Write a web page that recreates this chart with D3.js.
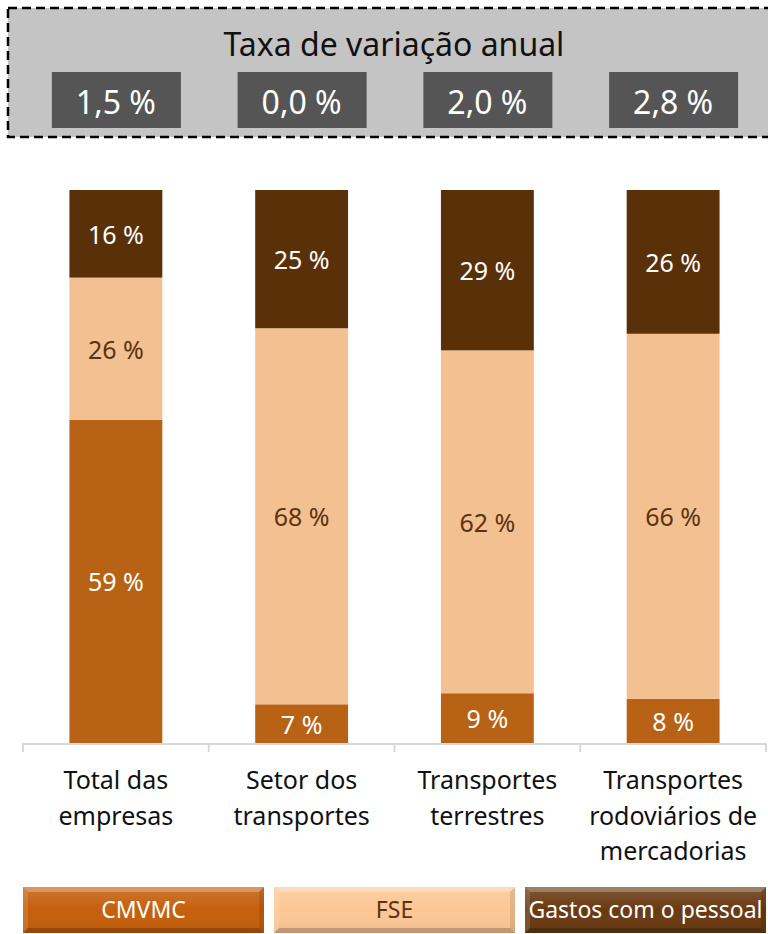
<!DOCTYPE html>
<html>
<head>
<meta charset="utf-8">
<script src="https://cdn.jsdelivr.net/npm/d3@7"></script>
<style>
  body { margin: 0; background: #fff; }
  text { font-family: "Noto Sans", "Open Sans", sans-serif; }
</style>
</head>
<body>
<div id="chart"></div>
<script>
// Chart data
var categories = ["Total das\nempresas", "Setor dos\ntransportes", "Transportes\nterrestres", "Transportes\nrodoviários de\nmercadorias"];
var seriesNames = ["CMVMC", "FSE", "Gastos com o pessoal"];
var cmvmc = [59, 7, 9, 8];
var fse = [26, 68, 62, 66];
var gastos = [16, 25, 29, 26];
var annualRate = [1.5, 0.0, 2.0, 2.8];

var barColors = ["#b86215", "#f3c092", "#5a3009"];
var labelColors = ["#ffffff", "#5c3310", "#ffffff"];
var legendColors = ["#c55f0c", "#fcc795", "#6a3a12"];
var legendText = ["#ffffff", "#5c3310", "#ffffff"];

const width = 768;
const height = 934;

var svg = d3.select("#chart")
            .append("svg")
                .attr("width", width)
                .attr("height", height);

// Build table for the stack
var table = categories.map(function(c, i) {
    return {cat: c, "CMVMC": cmvmc[i], "FSE": fse[i], "Gastos com o pessoal": gastos[i]};
});

var stack = d3.stack()
                .keys(seriesNames)
                .offset(d3.stackOffsetExpand);
var layers = stack(table);

// Scales
var scaleX = d3.scaleBand()
                .domain(categories)
                .range([23, 766])
                .paddingInner(0.5)
                .paddingOuter(0.25);

var scaleY = d3.scaleLinear()
                .domain([0, 1])
                .range([743, 190]);

// Header box with annual rates
var header = svg.append("g");
header.append("rect")
    .attr("x", 8)
    .attr("y", 8)
    .attr("width", 800)
    .attr("height", 129)
    .attr("fill", "#c4c4c4")
    .attr("stroke", "#000")
    .attr("stroke-width", 2.5)
    .attr("stroke-dasharray", "9,5");

header.append("text")
    .attr("x", 394)
    .attr("y", 56)
    .attr("text-anchor", "middle")
    .style("font-size", "32px")
    .attr("fill", "#111")
    .text("Taxa de variação anual");

var fmtRate = function(v) { return d3.format(".1f")(v).replace(".", ",") + " %"; };

var rateBox = header.selectAll("g.rate")
    .data(annualRate)
    .enter()
    .append("g")
        .attr("class", "rate")
        .attr("transform", function(d, i) {
            return "translate(" + (scaleX(categories[i]) + scaleX.bandwidth() / 2) + ",0)";
        });

rateBox.append("rect")
    .attr("x", -64)
    .attr("y", 72)
    .attr("width", 129)
    .attr("height", 56)
    .attr("fill", "#555555");

rateBox.append("text")
    .attr("x", 0)
    .attr("y", 114)
    .attr("text-anchor", "middle")
    .style("font-size", "32px")
    .attr("fill", "#fff")
    .text(function(d) { return fmtRate(d); });

// Axis line with ticks at band boundaries
var axis = svg.append("g");
axis.append("line")
    .attr("x1", scaleX.range()[0])
    .attr("x2", scaleX.range()[1])
    .attr("y1", scaleY(0) + 1)
    .attr("y2", scaleY(0) + 1)
    .attr("stroke", "#d9d9d9")
    .attr("stroke-width", 2);

var bounds = categories.map(function(c) { return scaleX(c) - scaleX.step() * 0.25; });
bounds.push(scaleX.range()[1]);
axis.selectAll("line.tick")
    .data(bounds)
    .enter()
    .append("line")
        .attr("class", "tick")
        .attr("x1", function(d) { return d; })
        .attr("x2", function(d) { return d; })
        .attr("y1", scaleY(0))
        .attr("y2", scaleY(0) + 9)
        .attr("stroke", "#d9d9d9")
        .attr("stroke-width", 2);

// Stacked bars
var layer = svg.selectAll("g.layer")
    .data(layers)
    .enter()
    .append("g")
        .attr("class", "layer")
        .attr("fill", function(d, i) { return barColors[i]; });

layer.selectAll("rect")
    .data(function(d) { return d; })
    .enter()
    .append("rect")
        .attr("x", function(d) { return scaleX(d.data.cat); })
        .attr("y", function(d) { return scaleY(d[1]); })
        .attr("width", scaleX.bandwidth())
        .attr("height", function(d) { return scaleY(d[0]) - scaleY(d[1]); });

// Value labels
layers.forEach(function(l, li) {
    svg.append("g")
        .selectAll("text")
        .data(l)
        .enter()
        .append("text")
            .attr("x", function(d) { return scaleX(d.data.cat) + scaleX.bandwidth() / 2; })
            .attr("y", function(d) { return (scaleY(d[0]) + scaleY(d[1])) / 2 + 10; })
            .attr("text-anchor", "middle")
            .style("font-size", "25px")
            .attr("fill", labelColors[li])
            .text(function(d) { return d.data[l.key] + " %"; });
});

// Category labels
var catLabels = svg.append("g")
    .selectAll("text")
    .data(categories)
    .enter()
    .append("text")
        .attr("text-anchor", "middle")
        .style("font-size", "25px")
        .attr("fill", "#111");

catLabels.selectAll("tspan")
    .data(function(d) {
        return d.split("\n").map(function(s) { return {s: s, c: d}; });
    })
    .enter()
    .append("tspan")
        .attr("x", function(d) { return scaleX(d.c) + scaleX.bandwidth() / 2; })
        .attr("y", function(d, i) { return 789 + i * 35.5; })
        .text(function(d) { return d.s; });

// Legend with beveled boxes
var defs = svg.append("defs");
var shine = defs.append("linearGradient")
    .attr("id", "shine")
    .attr("x1", 0).attr("y1", 0).attr("x2", 0).attr("y2", 1);
shine.append("stop").attr("offset", "0%").attr("stop-color", "#fff").attr("stop-opacity", 0.15);
shine.append("stop").attr("offset", "50%").attr("stop-color", "#fff").attr("stop-opacity", 0.0);
shine.append("stop").attr("offset", "100%").attr("stop-color", "#000").attr("stop-opacity", 0.06);

var legendX = [23, 274, 525];
var legendW = 241;
var legendY = 887;
var legendH = 46;
var bevel = 5;

var legend = svg.selectAll("g.legend")
    .data(seriesNames)
    .enter()
    .append("g")
        .attr("class", "legend")
        .attr("transform", function(d, i) { return "translate(" + legendX[i] + "," + legendY + ")"; });

legend.append("rect")
    .attr("width", legendW)
    .attr("height", legendH)
    .attr("fill", function(d, i) { return legendColors[i]; });

legend.append("rect")
    .attr("width", legendW)
    .attr("height", legendH)
    .attr("fill", "url(#shine)");

// top bevel
legend.append("polygon")
    .attr("points", [[0, 0], [legendW, 0], [legendW - bevel, bevel], [bevel, bevel]].join(" "))
    .attr("fill", "#fff")
    .attr("fill-opacity", 0.25);
// left bevel
legend.append("polygon")
    .attr("points", [[0, 0], [bevel, bevel], [bevel, legendH - bevel], [0, legendH]].join(" "))
    .attr("fill", "#fff")
    .attr("fill-opacity", 0.12);
// right bevel
legend.append("polygon")
    .attr("points", [[legendW, 0], [legendW, legendH], [legendW - bevel, legendH - bevel], [legendW - bevel, bevel]].join(" "))
    .attr("fill", "#000")
    .attr("fill-opacity", 0.1);
// bottom bevel
legend.append("polygon")
    .attr("points", [[0, legendH], [bevel, legendH - bevel], [legendW - bevel, legendH - bevel], [legendW, legendH]].join(" "))
    .attr("fill", "#000")
    .attr("fill-opacity", 0.2);

legend.append("text")
    .attr("x", legendW / 2)
    .attr("y", 31)
    .attr("text-anchor", "middle")
    .style("font-size", "23px")
    .attr("fill", function(d, i) { return legendText[i]; })
    .text(function(d) { return d; });
</script>
</body>
</html>
